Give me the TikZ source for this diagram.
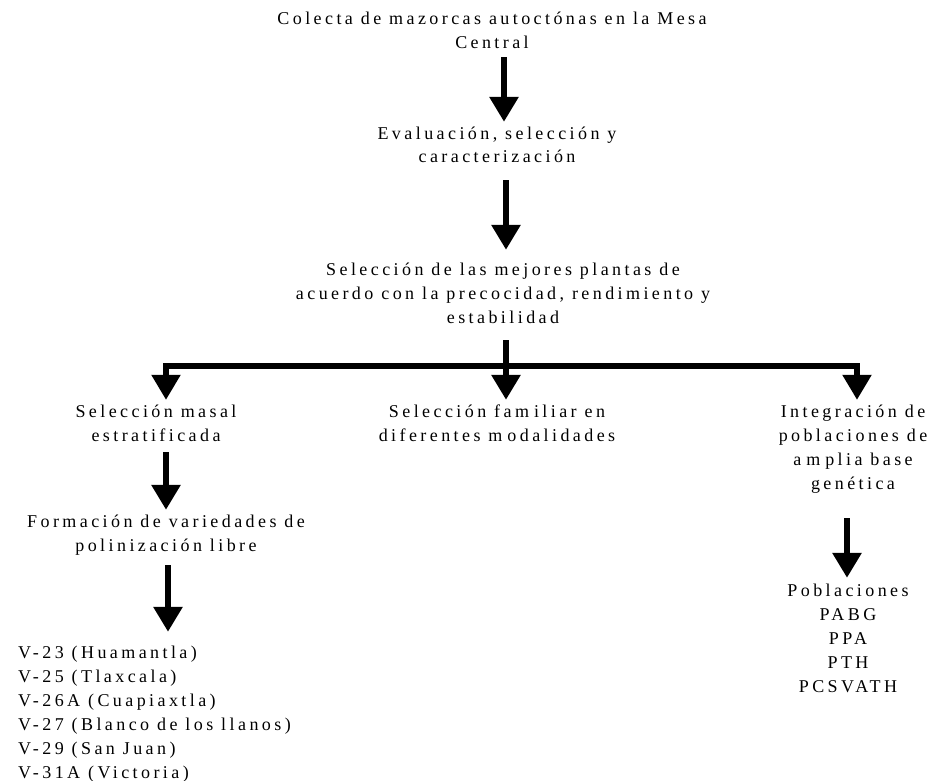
\documentclass[tikz,border=0pt]{standalone}
\usepackage{fontspec}
\setmainfont{Liberation Serif}[LetterSpace=19]
\usetikzlibrary{arrows.meta,calc}
% fixed first-line height and last-line depth, so every text line fills a 24pt band
\newcommand\tstr{\rule{0pt}{17pt}}
\newcommand\bstr{\rule[-7pt]{0pt}{7pt}}

\begin{document}
\begin{tikzpicture}[x=1pt,y=-1pt,
  txt/.style={inner sep=0pt, align=center, font=\fontsize{18}{24}\selectfont},
  bigarrow/.style={line width=6pt, -{Triangle[width=28pt,length=25pt]}},
  bararrow/.style={bigarrow, line width=5.5pt},
  ]
\useasboundingbox (0,0) rectangle (932,781);

% text blocks
\node[txt] (top) at (492,32)
  {\tstr Colecta de mazorcas autoctónas en la Mesa\\Central\bstr};
\node[txt] (eval) at (497,146)
  {\tstr Evaluación, selección y\\caracterización\bstr};
\node[txt] (sel) at (503,294)
  {\tstr Selección de las mejores plantas de\\acuerdo con la precocidad, rendimiento y\\estabilidad\bstr};
\node[txt] (masal) at (156,424)
  {\tstr Selección masal\\estratificada\bstr};
\node[txt] (fam) at (497,424)
  {\tstr Selección fam\kern5pt iliar en\\diferentes m\kern5pt odalidades\bstr};
\node[txt] (integ) at (853,448)
  {\tstr Integración de\\poblaciones de\\a\kern5pt m\kern5pt plia base\\genética\bstr};
\node[txt] (form) at (166,534)
  {\tstr Formación de variedades de\\polinización libre\bstr};
\node[txt, align=left, anchor=west] (list) at (18,713)
  {\tstr V-23 (Huamantla)\\V-25 (Tlaxcala)\\V-26A (Cuapiaxtla)\\V-27 (Blanco de los llanos)\\V-29 (San Juan)\\V-31A (Victoria)\bstr};
\node[txt] (pobl) at (848,639)
  {\tstr Poblaciones\\PABG\\PPA\\PTH\\PCSVATH\bstr};

% main column
\draw[bigarrow, shorten <=1pt] ([xshift=12pt]top.south) -- ([xshift=7pt]eval.north);
\draw[bigarrow, shorten <=10pt, shorten >=8pt] ([xshift=9pt]eval.south) -- ([xshift=3pt]sel.north);

% three-way branch
\coordinate (bj) at (506,366);
\coordinate (bl) at (166,366);
\coordinate (br) at (857,366);
\draw[line width=6pt, shorten <=10pt] ([xshift=3pt]sel.south) -- ([yshift=-2pt]bj);
\draw[bararrow] (bj) -| (masal.north -| bl);
\draw[bararrow] (bj) -| (integ.north -| br);
\draw[bigarrow] (bj) -- (fam.north -| bj);

% left column
\draw[bigarrow, shorten <=4pt] ([xshift=10pt]masal.south) -- (form.north);
\draw[bigarrow, shorten <=7pt, shorten >=9pt] ([xshift=2pt]form.south) -- ([xshift=2pt]form.south |- list.north);

% right column
\draw[bigarrow, shorten <=22pt, shorten >=1pt] ([xshift=-6pt]integ.south) -- ([xshift=-1pt]pobl.north);
\end{tikzpicture}
\end{document}
